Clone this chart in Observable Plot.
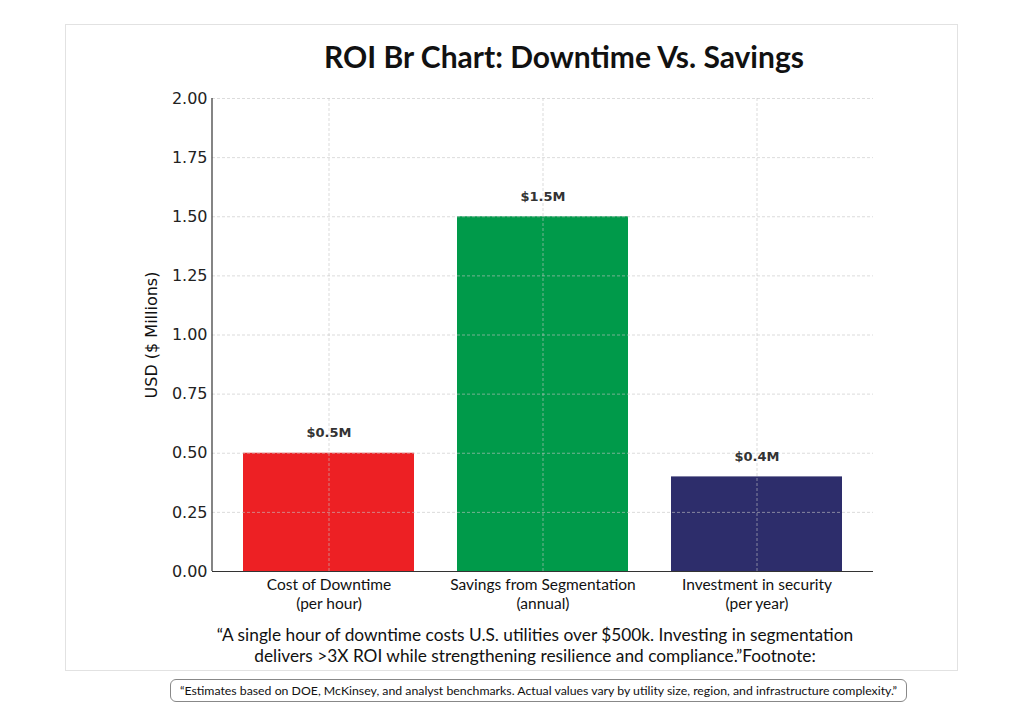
<!DOCTYPE html>
<html>
<head>
<meta charset="utf-8">
<script src="https://cdn.jsdelivr.net/npm/d3@7"></script>
<script src="https://cdn.jsdelivr.net/npm/@observablehq/plot@0.6"></script>
<style>
  body { margin: 0; background: #fff; width: 1024px; height: 718px; position: relative; overflow: hidden; font-family: "Lato", sans-serif; }
  #frame { position: absolute; left: 65px; top: 24px; width: 891px; height: 645px; border: 1px solid #e2e2e2; }
  #title { position: absolute; left: 0; width: 1128px; top: 38px; text-align: center; font-family: "Lato", sans-serif; font-weight: 700; font-size: 30px; color: #111; }
  #chart { position: absolute; left: 0; top: 80px; }
  #caption { position: absolute; left: 0; width: 1070px; top: 624px; text-align: center; font-family: "Lato", sans-serif; font-size: 17.3px; line-height: 21px; color: #111; }
  #foot { position: absolute; left: 170px; top: 679px; width: 737px; height: 23px; border: 1px solid #888; border-radius: 6px; text-align: center; font-family: "Lato", sans-serif; font-size: 12.3px; line-height: 21px; color: #111; box-sizing: border-box; }
</style>
</head>
<body>
<div id="frame"></div>
<div id="title">ROI Br Chart: Downtime Vs. Savings</div>
<div id="chart"></div>
<div id="caption">“A single hour of downtime costs U.S. utilities over $500k. Investing in segmentation<br>delivers &gt;3X ROI while strengthening resilience and compliance.”Footnote:</div>
<div id="foot">“Estimates based on DOE, McKinsey, and analyst benchmarks. Actual values vary by utility size, region, and infrastructure complexity.”</div>
<script>
const categories = ["Cost of Downtime\n(per hour)", "Savings from Segmentation\n(annual)", "Investment in security\n(per year)"];
const values = [0.5, 1.5, 0.4];
const valueLabels = ["$0.5M", "$1.5M", "$0.4M"];
const colors = ["#ED2024", "#009A4A", "#2D2D6B"];
const yTicks = [0, 0.25, 0.5, 0.75, 1.0, 1.25, 1.5, 1.75, 2.0];

const data = categories.map((c, i) => ({cat: c, value: values[i], label: valueLabels[i], color: colors[i]}));

const chart = Plot.plot({
  width: 1024,
  height: 540,
  marginLeft: 212,
  marginRight: 151,
  marginTop: 18,
  marginBottom: 49,
  style: {fontFamily: "DejaVu Sans, sans-serif", background: "transparent"},
  x: {domain: categories, paddingInner: 0.2, paddingOuter: 0.14, align: 0.5, label: null},
  y: {domain: [0, 2], label: null},
  marks: [
    Plot.barY(data, {x: "cat", y: "value", fill: "color"}),
    Plot.gridY(yTicks, {stroke: "#c4c4c4", strokeOpacity: 0.75, strokeDasharray: "3,2", strokeWidth: 0.8}),
    Plot.gridX(categories, {stroke: "#c4c4c4", strokeOpacity: 0.75, strokeDasharray: "3,2", strokeWidth: 0.8}),
    Plot.axisY(yTicks, {tickSize: 0, tickPadding: 5, tickFormat: d3.format(".2f"), fontSize: 16, fill: "#222"}),
    Plot.axisY({ticks: [], label: "USD ($ Millions)", labelAnchor: "center", labelArrow: "none", labelOffset: 67, fontSize: 16, fill: "#111"}),
    Plot.axisX({tickSize: 0, tickPadding: 5, fontSize: 15.5, fill: "#111", lineHeight: 1.22, fontFamily: "Lato, sans-serif"}),
    Plot.ruleY([0], {stroke: "#333", strokeWidth: 1.2}),
    Plot.text(data, {x: "cat", y: "value", text: "label", dy: -20, fontWeight: "bold", fontSize: 13, fill: "#333"})
  ]
});
document.getElementById("chart").appendChild(chart);

// left spine
const svg = d3.select(chart);
svg.append("line").attr("x1", 212).attr("x2", 212).attr("y1", 18).attr("y2", 491).attr("stroke", "#333").attr("stroke-width", 1.2);
</script>
</body>
</html>
